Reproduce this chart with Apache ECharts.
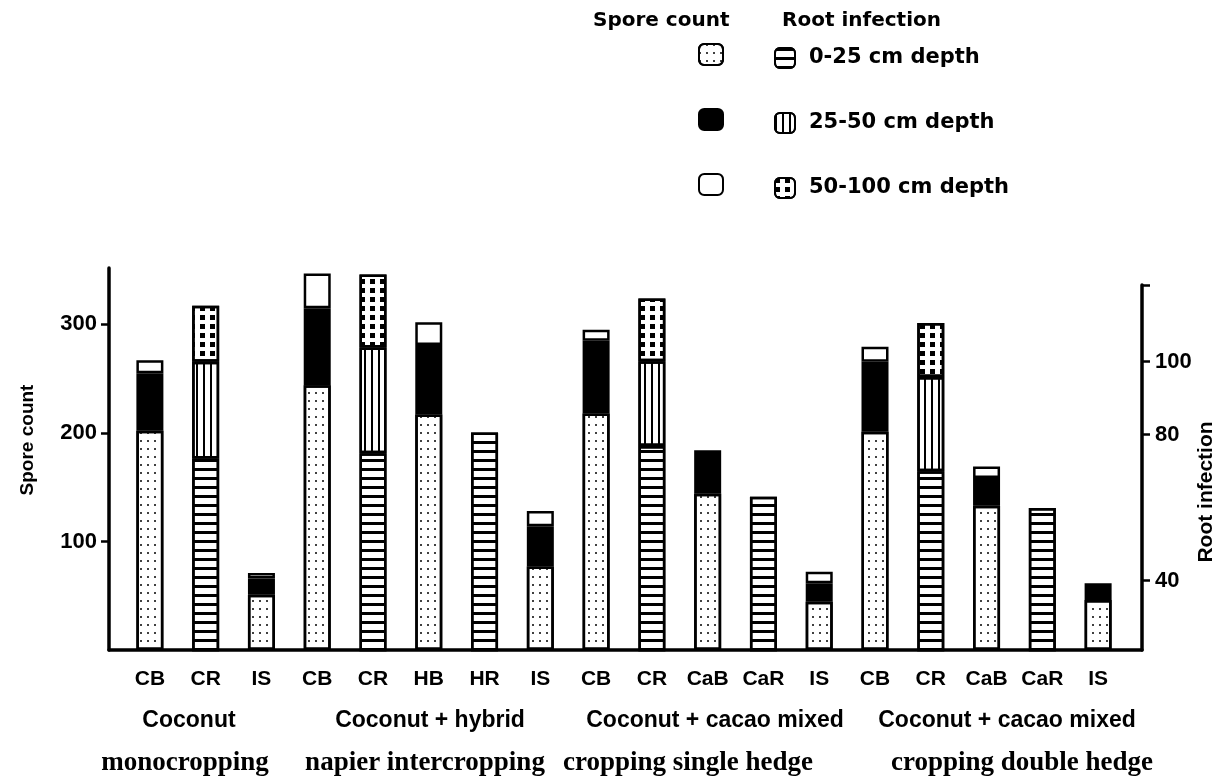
<!DOCTYPE html>
<html><head><meta charset="utf-8">
<script src="https://cdn.jsdelivr.net/npm/echarts@6/dist/echarts.min.js"></script>
<style>html,body{margin:0;padding:0;background:#fff}#c{width:1221px;height:782px}</style>
</head><body><div id="c"></div>
<script>
// ---------- data ----------
const categories = ['CB','CR','IS','CB','CR','HB','HR','IS','CB','CR','CaB','CaR','IS','CB','CR','CaB','CaR','IS'];
const groupTop = ['Coconut','Coconut + hybrid','Coconut + cacao mixed','Coconut + cacao mixed'];
const groupBottom = ['monocropping','napier intercropping','cropping single hedge','cropping double hedge'];
const depthNames = ['0-25 cm depth','25-50 cm depth','50-100 cm depth'];

// spore count (left axis), stacked by depth
const spore0_25  = [202, null, 51, 244, null, 217, null, 77, 218, null, 144, null, 44.5, 201, null, 133, null, 46];
const spore25_50 = [53, null, 15, 71, null, 64, null, 37, 67, null, 40, null, 17, 64.5, null, 25.5, null, 15.4];
const spore50_100= [12, null, 5, 32, null, 21, null, 14, 10, null, null, null, 10.7, 14, null, 10.7, null, null];
// root infection (right axis), stacked by depth
const root0_25   = [null, 73.5, null, null, 74.9, null, 80.6, null, null, 76.9, null, 63.0, null, null, 70.0, null, 59.9, null];
const root25_50  = [null, 26.5, null, null, 29.0, null, null, null, null, 23.2, null, null, null, null, 25.8, null, null, null];
const root50_100 = [null, 15.3, null, null, 20.0, null, null, null, null, 17.2, null, null, null, null, 14.8, null, null, null];

const sporeTicks = [0, 352, 100];      // min, max, interval
const rootRange = [21, 121];           // right axis extent shown
const rootTicks = [40, 80, 100];

// ---------- styling ----------
const SANS = '"Liberation Sans", Arial, sans-serif';
const WIDE = '"DejaVu Sans", sans-serif';
const SERIF = '"Liberation Serif", "Times New Roman", serif';
const black = '#000';
const GT = 268, GB = 650, GH = GB - GT;       // grid top/bottom
const RT = 285;                               // right axis top
const rootPx = (GB - RT) / (rootRange[1] - rootRange[0]);
const rootMaxBars = rootRange[0] + GH / rootPx;

const decFine = {symbol:'circle', symbolSize:1, dashArrayX:[2,5], dashArrayY:[2,6], color:black};
const decBig  = {symbol:'rect', symbolSize:1, dashArrayX:[5,5], dashArrayY:[5,4], color:black};
const decH    = {symbol:'rect', symbolSize:1, dashArrayX:[1,0], dashArrayY:[3,6], color:black};
const decV    = {symbol:'rect', symbolSize:1, dashArrayX:[2,5], dashArrayY:[1,0], color:black};

const bw = 27, bb = 2.5;
function barSeries(name, data, xi, yi, stack, fill, decal){
  const st = {color: fill, borderColor: black, borderWidth: bb};
  if (decal) st.decal = decal;
  return {type:'bar', name, data, xAxisIndex:xi, yAxisIndex:yi, stack, barWidth:bw,
          clip:true, itemStyle: st, emphasis:{disabled:true}, animation:false};
}
const sporeNames = depthNames.map(d => 'Spore count ' + d);

const hiddenCat = (gi) => ({type:'category', gridIndex:gi, data:categories, show:false});
const axisLineStyle = {show:true, onZero:false, lineStyle:{color:black, width:3.5}};
const option = {
  animation:false,
  backgroundColor:'#fff',
  title:[
    {text:'Spore count', left:593, top:11, padding:0, textStyle:{fontFamily:WIDE, fontWeight:'bold', fontSize:20, color:black}},
    {text:'Root infection', left:782, top:11, padding:0, textStyle:{fontFamily:WIDE, fontWeight:'bold', fontSize:20, color:black}}
  ],
  legend:[
    {data:sporeNames, orient:'vertical', left:698, top:43, padding:0, itemWidth:24, itemHeight:21, itemGap:42,
     icon:'roundRect', selectedMode:false, formatter:() => '', textStyle:{fontSize:10, lineHeight:21}},
    {data:depthNames, orient:'vertical', left:774, top:47, padding:0, itemWidth:20, itemHeight:20, itemGap:43,
     icon:'roundRect', selectedMode:false,
     textStyle:{fontFamily:WIDE, fontWeight:'bold', fontSize:21, color:black, lineHeight:20, padding:[0,0,0,9]}}
  ],
  grid:[
    {left:122, width:1004, top:GT, height:GH},
    {left:122, width:1004, top:GT, height:GH},
    {left:109, width:1033, top:GT, height:GH},
    {left:109, width:1033, top:RT, height:GB-RT}
  ],
  xAxis:[
    {type:'category', gridIndex:0, data:categories, axisLine:{show:false}, axisTick:{show:false},
     axisLabel:{interval:0, margin:19, fontFamily:SANS, fontWeight:'bold', fontSize:21, color:black}},
    hiddenCat(1),
    {type:'value', gridIndex:2, min:0, max:1, axisLine:axisLineStyle,
     axisTick:{show:false}, axisLabel:{show:false}, splitLine:{show:false}},
    {type:'value', gridIndex:3, min:0, max:1, show:false}
  ],
  yAxis:[
    {type:'value', gridIndex:0, min:sporeTicks[0], max:sporeTicks[1], show:false, splitLine:{show:false}},
    {type:'value', gridIndex:1, min:rootRange[0], max:rootMaxBars, show:false, splitLine:{show:false}},
    {type:'value', gridIndex:2, position:'left', min:sporeTicks[0], max:sporeTicks[1], interval:sporeTicks[2],
     axisLine:axisLineStyle,
     axisTick:{show:true, length:8, lineStyle:{color:black, width:2.5}},
     axisLabel:{showMinLabel:false, showMaxLabel:false, margin:12, fontFamily:SANS, fontWeight:'bold', fontSize:22, color:black},
     splitLine:{show:false}},
    {type:'value', gridIndex:3, position:'right', min:rootRange[0], max:rootRange[1],
     axisLine:axisLineStyle,
     axisTick:{show:true, length:8, customValues:rootTicks.concat([rootRange[1]]), lineStyle:{color:black, width:2.5}},
     axisLabel:{customValues:rootTicks, margin:13, fontFamily:SANS, fontWeight:'bold', fontSize:22, color:black},
     splitLine:{show:false}}
  ],
  series:[
    barSeries(sporeNames[0], spore0_25, 0, 0, 'spore', '#fff', decFine),
    barSeries(sporeNames[1], spore25_50, 0, 0, 'spore', black, null),
    barSeries(sporeNames[2], spore50_100, 0, 0, 'spore', '#fff', null),
    barSeries(depthNames[0], root0_25, 1, 1, 'root', '#fff', decH),
    barSeries(depthNames[1], root25_50, 1, 1, 'root', '#fff', decV),
    barSeries(depthNames[2], root50_100, 1, 1, 'root', '#fff', decBig)
  ],
  graphic:[]
};

const topX = [189, 430, 715, 1007];
const botX = [185, 425, 688, 1022];
groupTop.forEach((t,i) => option.graphic.push({type:'text', x:topX[i], y:721,
  style:{text:t, textAlign:'center', textVerticalAlign:'middle', font:'bold 23px ' + SANS, fill:black}}));
groupBottom.forEach((t,i) => option.graphic.push({type:'text', x:botX[i], y:763,
  style:{text:t, textAlign:'center', textVerticalAlign:'middle', font:'bold 27px ' + SERIF, fill:black}}));
option.graphic.push({type:'text', x:28, y:440, rotation:Math.PI/2,
  style:{text:'Spore count', textAlign:'center', textVerticalAlign:'middle', font:'bold 19px ' + SANS, fill:black}});
option.graphic.push({type:'text', x:1206, y:492, rotation:Math.PI/2,
  style:{text:'Root infection', textAlign:'center', textVerticalAlign:'middle', font:'bold 21px ' + SANS, fill:black}});

const chart = echarts.init(document.getElementById('c'), null, {renderer:'canvas'});
chart.setOption(option);
</script></body></html>
